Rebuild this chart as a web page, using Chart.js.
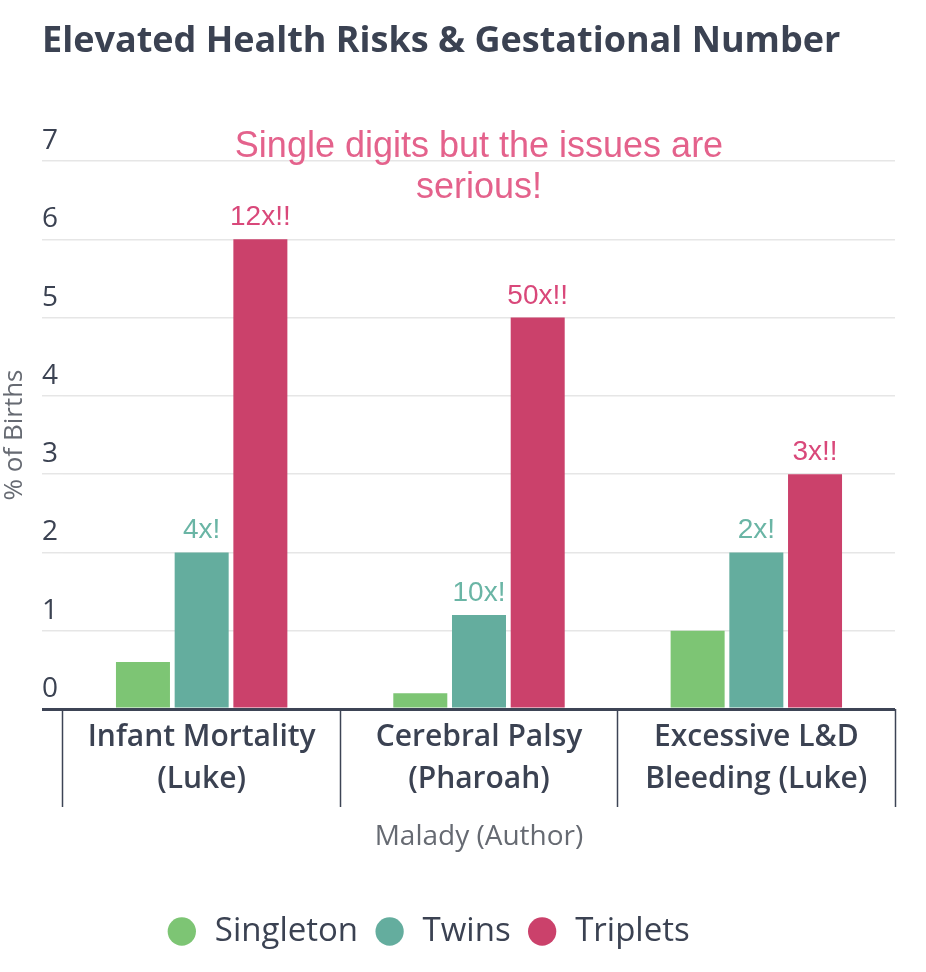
<!DOCTYPE html>
<html>
<head>
<meta charset="utf-8">
<script src="https://cdn.jsdelivr.net/npm/chart.js@4"></script>
<style>
  html, body { margin: 0; padding: 0; background: #fff; }
  #wrap { width: 926px; height: 972px; }
</style>
</head>
<body>
<div id="wrap"><canvas id="riskChart" width="926" height="972"></canvas></div>
<script>
// data
const categories = [["Infant Mortality", "(Luke)"], ["Cerebral Palsy", "(Pharoah)"], ["Excessive L&D", "Bleeding (Luke)"]];
const singleton = [0.6, 0.2, 1.0];
const twins = [2.0, 1.2, 2.0];
const triplets = [6.0, 5.0, 3.0];
const twinsNotes = ["4x!", "10x!", "2x!"];
const tripletsNotes = ["12x!!", "50x!!", "3x!!"];
const yTicks = [0, 1, 2, 3, 4, 5, 6, 7];
const annotation = ["Single digits but the issues are", "serious!"];

const dark = "#3b4252";
const axisGray = "#666a72";
const legendShift = -41;

Chart.defaults.font.family = '"Open Sans", sans-serif';

// labels over bars + the pink note at the top of the plot
const barNotes = {
  id: "barNotes",
  afterLayout(chart) {
    chart.legend.left += legendShift;
    chart.legend.right += legendShift;
  },
  afterDatasetsDraw(chart) {
    const ctx = chart.ctx;
    ctx.save();
    ctx.textAlign = "center";
    ctx.textBaseline = "alphabetic";
    ctx.font = '28px "Liberation Sans", Arial, sans-serif';
    chart.data.datasets.forEach((ds, i) => {
      if (!ds.notes) return;
      ctx.fillStyle = ds.noteColor;
      chart.getDatasetMeta(i).data.forEach((bar, j) => {
        if (ds.notes[j]) ctx.fillText(ds.notes[j], bar.x, bar.y - 14);
      });
    });
    const area = chart.chartArea;
    const cx = (area.left + area.right) / 2;
    ctx.font = '36px "Liberation Sans", Arial, sans-serif';
    ctx.fillStyle = "#e4628c";
    annotation.forEach((line, k) => ctx.fillText(line, cx, area.top - 4 + k * 41));
    ctx.restore();
  }
};

const ctx = document.getElementById("riskChart").getContext("2d");
new Chart(ctx, {
  type: "bar",
  data: {
    labels: categories,
    datasets: [
      { label: "Singleton", data: singleton, backgroundColor: "#7dc574", borderWidth: 0 },
      { label: "Twins", data: twins, backgroundColor: "#64ad9e", borderWidth: 0,
        notes: twinsNotes, noteColor: "#6ab5a5" },
      { label: "Triplets", data: triplets, backgroundColor: "#cb416b", borderWidth: 0,
        notes: tripletsNotes, noteColor: "#d9487a" }
    ]
  },
  options: {
    responsive: false,
    animation: false,
    devicePixelRatio: 1,
    categoryPercentage: 0.635,
    barPercentage: 0.92,
    layout: { padding: { left: 42, right: 31, top: 0, bottom: 14 } },
    plugins: {
      title: {
        display: true,
        text: "Elevated Health Risks & Gestational Number",
        align: "start",
        color: dark,
        font: { size: 36, weight: "bold", lineHeight: 1.2 },
        padding: { top: 20.4, bottom: 97.4 }
      },
      legend: {
        position: "bottom",
        labels: {
          usePointStyle: true,
          pointStyle: "circle",
          boxWidth: 33,
          boxHeight: 20,
          padding: 15,
          color: dark,
          font: { size: 33 }
        }
      },
      tooltip: { enabled: false }
    },
    scales: {
      x: {
        grid: {
          display: true,
          offset: true,
          drawOnChartArea: false,
          drawTicks: true,
          tickLength: 98,
          tickColor: "#3d4455",
          tickWidth: 1.5
        },
        border: { display: false },
        ticks: {
          color: dark,
          font: { size: 30, weight: 600, lineHeight: 1.4 },
          padding: -91,
          maxRotation: 0,
          autoSkip: false
        },
        title: {
          display: true,
          text: "Malady (Author)",
          color: axisGray,
          font: { size: 28, lineHeight: 1.2 },
          padding: { top: 111.2, bottom: 46.2 }
        }
      },
      y: {
        min: 0,
        max: 7,
        afterBuildTicks: s => { s.ticks = yTicks.map(v => ({ value: v })); },
        grid: {
          color: c => (c.tick && c.tick.value === 0 ? "#3d4455" : "#e6e6e6"),
          lineWidth: c => (c.tick && c.tick.value === 0 ? 3 : 1.5),
          tickColor: c => (c.tick && c.tick.value === 0 ? "#3d4455" : "#e6e6e6"),
          tickWidth: c => (c.tick && c.tick.value === 0 ? 3 : 1.5),
          drawTicks: true,
          tickLength: 21
        },
        border: { display: false },
        ticks: {
          mirror: true,
          padding: -21,
          labelOffset: -20,
          color: dark,
          font: { size: 28 }
        },
        title: {
          display: true,
          text: "% of Births",
          color: axisGray,
          font: { size: 26, lineHeight: 1.2 },
          padding: { top: -42.6, bottom: 53.4 }
        }
      }
    }
  },
  plugins: [barNotes]
});
</script>
</body>
</html>
